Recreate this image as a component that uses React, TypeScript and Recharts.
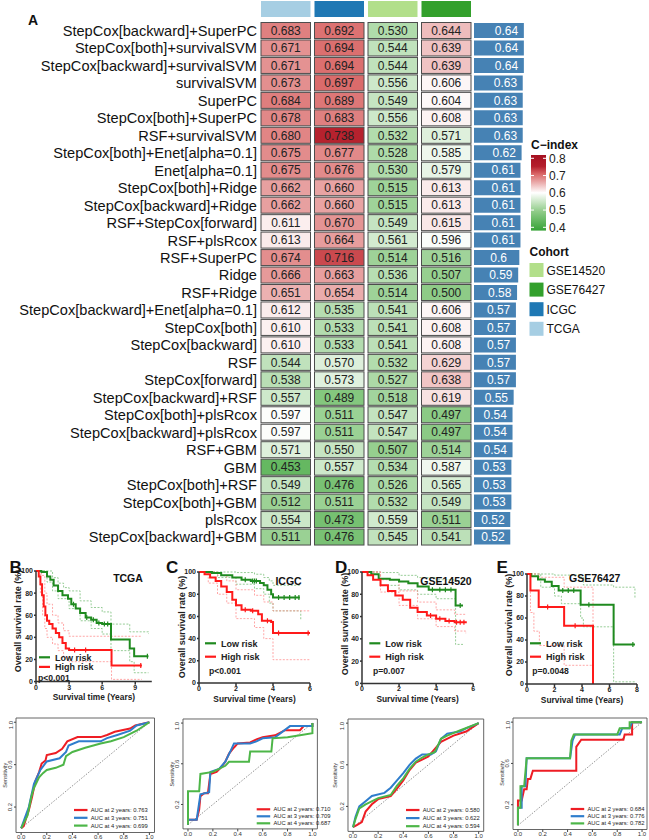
import React from 'react'
import {
  BarChart, Bar, XAxis, YAxis, LabelList, LineChart, Line, ReferenceArea, ReferenceLine, Label,
} from 'recharts'

// ---------- panel A: C-index heatmap ----------
const methods = [
  'StepCox[backward]+SuperPC', 'StepCox[both]+survivalSVM', 'StepCox[backward]+survivalSVM', 'survivalSVM',
  'SuperPC', 'StepCox[both]+SuperPC', 'RSF+survivalSVM', 'StepCox[both]+Enet[alpha=0.1]', 'Enet[alpha=0.1]',
  'StepCox[both]+Ridge', 'StepCox[backward]+Ridge', 'RSF+StepCox[forward]', 'RSF+plsRcox', 'RSF+SuperPC',
  'Ridge', 'RSF+Ridge', 'StepCox[backward]+Enet[alpha=0.1]', 'StepCox[both]', 'StepCox[backward]', 'RSF',
  'StepCox[forward]', 'StepCox[backward]+RSF', 'StepCox[both]+plsRcox', 'StepCox[backward]+plsRcox',
  'RSF+GBM', 'GBM', 'StepCox[both]+RSF', 'StepCox[both]+GBM', 'plsRcox', 'StepCox[backward]+GBM',
]
const cohorts = ['TCGA', 'ICGC', 'GSE14520', 'GSE76427']
const cohortColors: Record<string, string> = {
  TCGA: '#a6cee3', ICGC: '#1f78b4', GSE14520: '#b2df8a', GSE76427: '#33a02c',
}
const legendCohorts = ['GSE14520', 'GSE76427', 'ICGC', 'TCGA']
const tcgaC = [0.683, 0.671, 0.671, 0.673, 0.684, 0.678, 0.680, 0.675, 0.675, 0.662, 0.662, 0.611, 0.613, 0.674, 0.666,
  0.651, 0.612, 0.610, 0.610, 0.544, 0.538, 0.557, 0.597, 0.597, 0.571, 0.453, 0.549, 0.512, 0.554, 0.511]
const icgcC = [0.692, 0.694, 0.694, 0.697, 0.689, 0.683, 0.738, 0.677, 0.676, 0.660, 0.660, 0.670, 0.664, 0.716, 0.663,
  0.654, 0.535, 0.533, 0.533, 0.570, 0.573, 0.489, 0.511, 0.511, 0.550, 0.557, 0.476, 0.511, 0.473, 0.476]
const gse14520C = [0.530, 0.544, 0.544, 0.556, 0.549, 0.556, 0.532, 0.528, 0.530, 0.515, 0.515, 0.549, 0.561, 0.514, 0.536,
  0.514, 0.541, 0.541, 0.541, 0.532, 0.527, 0.518, 0.547, 0.547, 0.507, 0.534, 0.526, 0.532, 0.559, 0.545]
const gse76427C = [0.644, 0.639, 0.639, 0.606, 0.604, 0.608, 0.571, 0.585, 0.579, 0.613, 0.613, 0.615, 0.596, 0.516, 0.507,
  0.500, 0.606, 0.608, 0.608, 0.629, 0.638, 0.619, 0.497, 0.497, 0.514, 0.587, 0.565, 0.549, 0.511, 0.541]
const meanC = [0.64, 0.64, 0.64, 0.63, 0.63, 0.63, 0.63, 0.62, 0.61, 0.61, 0.61, 0.61, 0.61, 0.6, 0.59, 0.58, 0.57, 0.57,
  0.57, 0.57, 0.57, 0.55, 0.54, 0.54, 0.54, 0.53, 0.53, 0.53, 0.52, 0.52]
const cLegendTicks = [0.8, 0.7, 0.6, 0.5, 0.4]

// ---------- panels B-E: Kaplan-Meier ([years, survival %]) ----------
const tcgaLow = [[0, 100], [0.5, 99], [1, 95], [1.3, 92], [1.6, 87], [2, 82], [2.4, 78], [2.9, 75], [3.2, 70], [3.6, 66], [4, 62],
  [4.5, 58], [5, 56], [5.5, 53], [6, 52], [6.8, 38], [8.5, 30], [8.9, 23], [10.2, 23]]
const tcgaHigh = [[0, 100], [0.25, 95], [0.4, 88], [0.55, 78], [0.7, 68], [0.85, 60], [1, 55], [1.2, 52], [1.5, 48], [1.8, 44],
  [2.1, 40], [2.4, 35], [2.7, 30], [3, 28.5], [6.85, 14.5], [9.6, 14.5]]
const tcgaLowUp = [[0, 100], [1, 100], [1.5, 94], [2, 89], [2.5, 85], [3, 82], [4, 73], [5, 67], [6, 63], [6.8, 52], [8.5, 45], [10.2, 43]]
const tcgaLowLo = [[0, 100], [1, 90], [1.5, 82], [2, 75], [3, 66], [4, 55], [5, 48], [6, 43], [6.8, 28], [8.5, 18], [8.9, 8], [10.2, 8]]
const tcgaHighUp = [[0, 100], [0.5, 96], [0.8, 80], [1, 70], [1.5, 60], [2, 53], [2.5, 46], [3, 41], [9.6, 41]]
const tcgaHighLo = [[0, 100], [0.4, 80], [0.6, 60], [0.8, 48], [1, 40], [1.5, 34], [2, 28], [2.5, 22], [3, 18], [6.85, 2], [9.6, 2]]
const tcgaLowCens = [[3.4, 70], [4.6, 58], [5.2, 56], [5.7, 53], [6.2, 52], [6.5, 52], [10.1, 23]]
const tcgaHighCens = [[3.5, 28.5], [4.5, 28.5], [9.5, 14.5]]

const icgcLow = [[0, 100], [0.7, 99], [1.2, 97], [1.8, 95], [2.3, 93], [2.8, 92], [3.3, 90], [3.5, 88], [3.7, 84], [3.9, 80], [4, 77], [5.45, 77]]
const icgcHigh = [[0, 100], [0.3, 98], [0.6, 95], [0.9, 92], [1.2, 87], [1.5, 82], [1.8, 75], [2, 70], [2.3, 66], [2.8, 65], [3.2, 62],
  [3.4, 56], [3.9, 55], [4, 45], [6, 45]]
const icgcLowUp = [[0, 100], [2, 99.5], [3, 98], [3.5, 95], [3.8, 92], [4, 88], [5.5, 88]]
const icgcLowLo = [[0, 100], [1, 95], [2, 89], [3, 85], [3.5, 80], [3.8, 72], [4, 65], [5.5, 57]]
const icgcHighUp = [[0, 100], [1, 97], [1.5, 92], [2, 84], [3, 79], [3.5, 73], [4, 65], [6, 65]]
const icgcHighLo = [[0, 100], [0.5, 90], [1, 80], [1.5, 72], [2, 58], [3, 50], [3.5, 40], [4, 21], [6, 21]]
const icgcLowCens = [[2.5, 93], [2.9, 92], [3.0, 92], [3.1, 92], [4.3, 77], [4.6, 77], [4.9, 77], [5.2, 77], [5.4, 77]]
const icgcHighCens = [[2.5, 66], [2.9, 65], [3.7, 56], [4.3, 45], [5.9, 45]]

const gse14Low = [[0, 100], [0.5, 98], [0.9, 94], [1.5, 93], [2, 91.5], [2.5, 90], [3, 87], [3.6, 84], [5.05, 70], [5.45, 70]]
const gse14High = [[0, 100], [0.3, 97], [0.6, 93], [1, 88], [1.4, 83], [1.8, 79], [2.2, 75], [2.6, 68], [3, 64], [3.5, 61], [4, 58],
  [4.5, 56], [5, 55], [5.6, 54]]
const gse14LowUp = [[0, 100], [1, 99.5], [2, 97], [3, 95], [4, 93], [5, 92], [5.45, 90]]
const gse14LowLo = [[0, 100], [1, 88], [2, 84], [3, 80], [4, 76], [5.05, 35], [5.45, 35]]
const gse14HighUp = [[0, 100], [1, 93], [2, 83], [3, 73], [4, 66], [5, 62], [5.6, 62]]
const gse14HighLo = [[0, 100], [1, 82], [2, 70], [3, 58], [4, 51], [5, 47], [5.6, 45]]
const gse14LowCens = [[3.8, 84], [4.2, 84], [4.5, 84], [4.8, 84], [5.3, 70]]
const gse14HighCens = [[3.7, 61], [4.2, 58], [4.7, 56], [5.1, 55], [5.3, 55], [5.5, 55]]

const gse76Low = [[0, 100], [0.3, 98], [0.8, 95], [1.3, 93], [1.8, 89], [2.3, 85], [3.9, 72], [6.3, 36], [7.85, 36]]
const gse76High = [[0, 100], [0.25, 85], [0.85, 70], [2.7, 53], [4.8, 0]]
const gse76LowUp = [[0, 100], [2, 99], [3.9, 97], [4.1, 90], [6.3, 88], [7.85, 78]]
const gse76LowLo = [[0, 100], [1, 88], [2, 80], [2.5, 73], [3.9, 60], [4.1, 52], [6.3, 2], [7.85, 2]]
const gse76HighUp = [[0, 100], [0.9, 97], [2.7, 88], [4.8, 88], [4.8, 0]]
const gse76HighLo = [[0, 100], [0.25, 65], [0.5, 48], [0.9, 35], [2.7, 17], [4.8, 17], [4.8, 0]]
const gse76LowCens = [[2.6, 85], [3.0, 85], [3.4, 85], [4.5, 72], [7.7, 36]]
const gse76HighCens = [[1.5, 70], [3.5, 53]]

// ---------- ROC curves ([1 - specificity, sensitivity]) ----------
const tcgaRoc2 = [[0, 0], [0.02, 0.02], [0.04, 0.1], [0.06, 0.17], [0.086, 0.3], [0.11, 0.44], [0.14, 0.53], [0.16, 0.61], [0.19, 0.64],
  [0.2, 0.69], [0.27, 0.71], [0.32, 0.75], [0.36, 0.82], [0.44, 0.86], [0.62, 0.86], [0.67, 0.88], [0.73, 0.91], [0.85, 0.94],
  [0.89, 0.97], [1, 1]]
const tcgaRoc3 = [[0, 0], [0.03, 0.1], [0.06, 0.2], [0.1, 0.42], [0.15, 0.55], [0.2, 0.63], [0.3, 0.66], [0.35, 0.72], [0.37, 0.78],
  [0.45, 0.82], [0.62, 0.82], [0.67, 0.85], [0.75, 0.88], [0.85, 0.92], [0.9, 0.97], [1, 1]]
const tcgaRoc4 = [[0, 0], [0.05, 0.12], [0.08, 0.3], [0.1, 0.38], [0.14, 0.48], [0.17, 0.52], [0.2, 0.55], [0.27, 0.57], [0.33, 0.6],
  [0.35, 0.68], [0.4, 0.72], [0.5, 0.76], [0.62, 0.8], [0.7, 0.82], [0.8, 0.86], [0.9, 0.92], [1, 1]]
const icgcRoc2 = [[0, 0], [0, 0.05], [0.07, 0.05], [0.09, 0.15], [0.1, 0.28], [0.13, 0.31], [0.16, 0.31], [0.18, 0.5], [0.23, 0.52],
  [0.27, 0.57], [0.3, 0.62], [0.33, 0.7], [0.37, 0.76], [0.4, 0.8], [0.5, 0.81], [0.55, 0.84], [0.6, 0.86], [0.7, 0.88], [0.78, 0.93],
  [0.9, 0.93], [0.93, 0.97], [1, 0.97], [1, 1]]
const icgcRoc3 = [[0, 0], [0, 0.05], [0.07, 0.05], [0.1, 0.3], [0.17, 0.32], [0.18, 0.52], [0.25, 0.55], [0.3, 0.62], [0.34, 0.72],
  [0.37, 0.8], [0.5, 0.8], [0.55, 0.82], [0.6, 0.85], [0.7, 0.86], [0.82, 0.97], [1, 0.97], [1, 1]]
const icgcRoc4 = [[0, 0], [0, 0.33], [0.09, 0.33], [0.1, 0.5], [0.2, 0.52], [0.3, 0.58], [0.33, 0.62], [0.49, 0.62], [0.5, 0.72],
  [0.67, 0.72], [0.68, 0.85], [0.8, 0.86], [0.9, 0.88], [1, 0.9], [1, 1]]
const gse14Roc2 = [[0, 0], [0.03, 0.02], [0.07, 0.05], [0.1, 0.15], [0.15, 0.22], [0.2, 0.27], [0.3, 0.3], [0.35, 0.37], [0.4, 0.45],
  [0.45, 0.55], [0.5, 0.62], [0.55, 0.65], [0.6, 0.68], [0.65, 0.75], [0.7, 0.82], [0.8, 0.88], [0.9, 0.92], [1, 1]]
const gse14Roc3 = [[0, 0], [0.02, 0.1], [0.05, 0.2], [0.1, 0.25], [0.15, 0.3], [0.25, 0.33], [0.3, 0.38], [0.35, 0.45], [0.4, 0.52],
  [0.45, 0.6], [0.5, 0.66], [0.55, 0.7], [0.62, 0.7], [0.66, 0.73], [0.7, 0.85], [0.75, 0.9], [0.85, 0.92], [0.9, 0.95], [1, 1]]
const gse14Roc4 = [[0, 0], [0.02, 0.08], [0.05, 0.18], [0.1, 0.22], [0.2, 0.28], [0.3, 0.31], [0.35, 0.4], [0.4, 0.47], [0.45, 0.56],
  [0.5, 0.63], [0.55, 0.67], [0.6, 0.7], [0.65, 0.72], [0.7, 0.85], [0.75, 0.88], [0.85, 0.93], [1, 1]]
const gse76Roc2 = [[0, 0], [0, 0.24], [0.03, 0.24], [0.05, 0.35], [0.07, 0.35], [0.08, 0.45], [0.1, 0.45], [0.12, 0.53], [0.47, 0.53],
  [0.47, 0.76], [0.51, 0.83], [0.85, 0.83], [0.86, 0.88], [0.92, 0.88], [0.92, 1], [1, 1]]
const gse76Roc3 = [[0, 0], [0, 0.17], [0.03, 0.17], [0.03, 0.38], [0.06, 0.38], [0.07, 0.65], [0.42, 0.65], [0.44, 0.82], [0.46, 0.88],
  [0.82, 0.88], [0.84, 0.94], [0.9, 0.94], [0.92, 1], [1, 1]]
const gse76Roc4 = [[0, 0], [0, 0.17], [0.02, 0.17], [0.02, 0.38], [0.05, 0.38], [0.07, 0.65], [0.42, 0.65], [0.43, 0.82], [0.45, 0.88],
  [0.8, 0.88], [0.82, 0.94], [0.9, 0.94], [0.9, 1], [1, 1]]
const tcgaAuc = [0.763, 0.751, 0.699]
const icgcAuc = [0.710, 0.709, 0.687]
const gse14Auc = [0.580, 0.622, 0.594]
const gse76Auc = [0.684, 0.776, 0.782]

const FONT = '"Liberation Sans", Arial, sans-serif'
const KM_GREEN = '#1f8a1f'
const KM_RED = '#ff1a1a'
const ROC_COLORS = ['#ee1d24', '#2f7dcc', '#4db648']

const STOPS: [number, number[]][] = [
  [0.4, [54, 163, 54]], [0.5, [142, 203, 135]], [0.6, [255, 255, 255]],
  [0.7, [217, 102, 102]], [0.74, [180, 30, 43]], [0.8, [165, 15, 32]],
]
function cColor(v: number) {
  const rgb = (c: number[]) => `rgb(${c.map(Math.round).join(',')})`
  if (v <= STOPS[0][0]) return rgb(STOPS[0][1])
  for (let i = 1; i < STOPS.length; i++) {
    const [a, ca] = STOPS[i - 1]
    const [b, cb] = STOPS[i]
    if (v <= b) {
      const t = (v - a) / (b - a)
      return rgb(ca.map((c, k) => c + (cb[k] - c) * t))
    }
  }
  return rgb(STOPS[STOPS.length - 1][1])
}

const pts = (arr: number[][]) => arr.map(([t, s]) => ({ t, s }))

const heatRows = methods.map((m, i) => ({
  method: m, TCGA: tcgaC[i], ICGC: icgcC[i], GSE14520: gse14520C[i], GSE76427: gse76427C[i], mean: meanC[i],
}))
const cohortRow = [{ name: 'Cohort', TCGA: 1, ICGC: 1, GSE14520: 1, GSE76427: 1 }]

function HeatRect(p: any) {
  const { x, y, width, height, v } = p
  return (
    <g>
      <rect x={x + 2} y={y + 0.5} width={width - 4} height={height - 1} fill={cColor(v)} stroke="#4d4d4d" strokeWidth={1} />
      <text x={x + width / 2} y={y + height / 2 + 4.2} textAnchor="middle" fontSize={12} fill="#222">{v.toFixed(3)}</text>
    </g>
  )
}

function Heatmap() {
  return (
    <>
      <div style={{ position: 'absolute', left: 0, top: 0 }}>
        <BarChart width={473} height={19} layout="vertical" data={cohortRow} barCategoryGap={0}
          margin={{ top: 1, right: 0, bottom: 2, left: 259 }}>
          <XAxis type="number" domain={[0, 4]} hide />
          <YAxis type="category" dataKey="name" hide />
          {cohorts.map(c => (
            <Bar key={c} dataKey={() => 1} stackId="a" isAnimationActive={false}
              shape={(p: any) => <rect x={p.x + 2} y={p.y} width={p.width - 4} height={p.height} fill={cohortColors[c]} />} />
          ))}
        </BarChart>
      </div>
      <div style={{ position: 'absolute', left: 0, top: 0 }}>
        <BarChart width={473} height={548} layout="vertical" data={heatRows} barCategoryGap={0}
          margin={{ top: 22, right: 0, bottom: 2, left: 0 }}>
          <XAxis type="number" domain={[0, 4]} hide />
          <YAxis type="category" dataKey="method" width={259} interval={0} tickSize={0} tickMargin={2}
            axisLine={false} tickLine={false} tick={{ fontSize: 14.6, fill: '#111' }} />
          {cohorts.map(c => (
            <Bar key={c} dataKey={() => 1} stackId="h" isAnimationActive={false}
              shape={(p: any) => <HeatRect {...p} v={p.payload[c]} />} />
          ))}
        </BarChart>
      </div>
      <div style={{ position: 'absolute', left: 474, top: 0 }}>
        <BarChart width={51} height={548} layout="vertical" data={heatRows} barSize={15}
          margin={{ top: 22, right: 0, bottom: 2, left: 0 }}>
          <XAxis type="number" domain={[0.2, 0.65]} allowDataOverflow hide />
          <YAxis type="category" dataKey="method" hide />
          <Bar dataKey="mean" fill="#4682b4" isAnimationActive={false}>
            <LabelList dataKey="mean" content={(p: any) => (
              <text x={p.x + p.width - 29} y={p.y + p.height / 2 + 4.2} fill="#fff" fontSize={12}>{String(p.value)}</text>
            )} />
          </Bar>
        </BarChart>
      </div>
    </>
  )
}

type KMProps = {
  x: number; y: number; w: number; h: number; xMax: number; xTicks: number[]
  low: number[][]; high: number[][]; lowUp: number[][]; lowLo: number[][]; highUp: number[][]; highLo: number[][]
  lowCens: number[][]; highCens: number[][]
}

const censorDot = (color: string) => (p: any) => (
  <line key={p.index} x1={p.cx} x2={p.cx} y1={p.cy - 2.5} y2={p.cy + 2.5} stroke={color} strokeWidth={1.2} />
)

function KMPlot({ x, y, w, h, xMax, xTicks, low, high, lowUp, lowLo, highUp, highLo, lowCens, highCens }: KMProps) {
  const padL = 40, padT = 10, padR = 10, padB = 22
  const band = (d: number[][], color: string, k: string) => (
    <Line key={k} data={pts(d)} dataKey="s" type="stepAfter" stroke={color} strokeWidth={0.8}
      strokeDasharray="2 1.5" dot={false} isAnimationActive={false} />
  )
  const tick = { fontSize: 7, fontWeight: 700, fill: '#222' }
  return (
    <div style={{ position: 'absolute', left: x - padL, top: y - padT }}>
      <LineChart width={w + padL + padR} height={h + padT + padB} margin={{ top: padT, right: padR, left: 0, bottom: 0 }}>
        <XAxis type="number" dataKey="t" domain={[0, xMax]} ticks={xTicks} allowDataOverflow height={padB}
          tick={tick} tickSize={3} tickMargin={0} stroke="#333" strokeWidth={1.5}>
          <Label content={(p: any) => (
            <text x={p.viewBox.x + p.viewBox.width / 2} y={p.viewBox.y + 18.5} textAnchor="middle"
              fontSize={8.4} fontWeight={700} fill="#222">Survival time (Years)</text>
          )} />
        </XAxis>
        <YAxis type="number" domain={[0, 100]} ticks={[0, 20, 40, 60, 80, 100]} width={padL}
          tick={tick} tickSize={2} tickMargin={1} stroke="#333" strokeWidth={1.5} />
        {band(lowUp, '#7cc07c', 'lu')}
        {band(lowLo, '#7cc07c', 'll')}
        {band(highUp, '#ff9090', 'hu')}
        {band(highLo, '#ff9090', 'hl')}
        <Line data={pts(low)} dataKey="s" type="stepAfter" stroke={KM_GREEN} strokeWidth={2} dot={false} isAnimationActive={false} />
        <Line data={pts(high)} dataKey="s" type="stepAfter" stroke={KM_RED} strokeWidth={2} dot={false} isAnimationActive={false} />
        <Line data={pts(lowCens)} dataKey="s" stroke="none" dot={censorDot(KM_GREEN)} isAnimationActive={false} />
        <Line data={pts(highCens)} dataKey="s" stroke="none" dot={censorDot(KM_RED)} isAnimationActive={false} />
      </LineChart>
    </div>
  )
}

type RocProps = { x: number; y: number; w: number; h: number; curves: number[][][] }

function RocTick(p: any) {
  const { x, y, payload } = p
  return (
    <text x={x} y={y} transform={`rotate(-90 ${x} ${y})`} textAnchor="middle" fontSize={6} fill="#333">
      {Number(payload.value).toFixed(1)}
    </text>
  )
}

function RocPlot({ x, y, w, h, curves }: RocProps) {
  const padL = 16, padT = 2, padR = 2, padB = 12
  const ticks = [0, 0.2, 0.4, 0.6, 0.8, 1]
  return (
    <div style={{ position: 'absolute', left: x - padL, top: y - padT }}>
      <LineChart width={w + padL + padR} height={h + padT + padB} margin={{ top: padT, right: padR, left: 0, bottom: 0 }}>
        <XAxis type="number" dataKey="t" domain={[-0.04, 1.04]} ticks={ticks} allowDataOverflow height={padB}
          axisLine={false} tickSize={2.5} tickMargin={0} stroke="#444"
          tick={{ fontSize: 6, fill: '#333' }} tickFormatter={(v: number) => v.toFixed(1)} />
        <YAxis type="number" domain={[-0.04, 1.04]} ticks={ticks} allowDataOverflow width={padL}
          axisLine={false} tickSize={2} tickMargin={1.5} stroke="#444" tick={<RocTick />} />
        <ReferenceArea x1={-0.04} x2={1.04} y1={-0.04} y2={1.04} fill="none" stroke="#555" strokeWidth={0.9} ifOverflow="visible" />
        <ReferenceLine segment={[{ x: 0, y: 0 }, { x: 1, y: 1 }]} stroke="#777" strokeWidth={0.8} strokeDasharray="1.5 1.5" />
        {curves.map((c, i) => (
          <Line key={i} data={pts(c)} dataKey="s" type="linear" stroke={ROC_COLORS[i]} strokeWidth={2}
            dot={false} isAnimationActive={false} />
        ))}
      </LineChart>
    </div>
  )
}

const kmPanels = [
  { letter: 'B', lx: 9.5, title: 'TCGA', tx: 128, ty: 582, p: 'p<0.001', px: 38, py: 680.5, legX: 39, legY: 657.3, legDy: 9.6, ylx: 21.2, yly: 621, plot: { x: 35.7, y: 570.7, w: 115.8, h: 110.6, xMax: 10.5, xTicks: [0, 3, 6, 9], low: tcgaLow, high: tcgaHigh, lowUp: tcgaLowUp, lowLo: tcgaLowLo, highUp: tcgaHighUp, highLo: tcgaHighLo, lowCens: tcgaLowCens, highCens: tcgaHighCens } },
  { letter: 'C', lx: 166, title: 'ICGC', tx: 288.5, ty: 584.5, p: 'p<0.001', px: 209, py: 673.5, legX: 205, legY: 643.3, legDy: 13.4, ylx: 185.2, yly: 627, plot: { x: 199, y: 572.3, w: 111, h: 111, xMax: 6, xTicks: [0, 2, 4, 6], low: icgcLow, high: icgcHigh, lowUp: icgcLowUp, lowLo: icgcLowLo, highUp: icgcHighUp, highLo: icgcHighLo, lowCens: icgcLowCens, highCens: icgcHighCens } },
  { letter: 'D', lx: 335, title: 'GSE14520', tx: 446, ty: 584.5, p: 'p=0.007', px: 373, py: 673.5, legX: 369.3, legY: 643.3, legDy: 13.4, ylx: 348.2, yly: 624, plot: { x: 362, y: 572.3, w: 111.2, h: 111.4, xMax: 6, xTicks: [0, 2, 4, 6], low: gse14Low, high: gse14High, lowUp: gse14LowUp, lowLo: gse14LowLo, highUp: gse14HighUp, highLo: gse14HighLo, lowCens: gse14LowCens, highCens: gse14HighCens } },
  { letter: 'E', lx: 496.5, title: 'GSE76427', tx: 594.7, ty: 582, p: 'p=0.0048', px: 532.3, py: 673.5, legX: 530, legY: 643.3, legDy: 13.4, ylx: 511.5, yly: 625, plot: { x: 527, y: 574, w: 110, h: 110, xMax: 8, xTicks: [0, 2, 4, 6, 8], low: gse76Low, high: gse76High, lowUp: gse76LowUp, lowLo: gse76LowLo, highUp: gse76HighUp, highLo: gse76HighLo, lowCens: gse76LowCens, highCens: gse76HighCens } },
]

const rocPanels = [
  { box: { x: 15.6, y: 718, w: 138.5, h: 114.5 }, curves: [tcgaRoc2, tcgaRoc3, tcgaRoc4], auc: tcgaAuc, legX: 74, legY: 810, legDy: 7.8, sx: 7 },
  { box: { x: 183.3, y: 719.2, w: 134.4, h: 109.9 }, curves: [icgcRoc2, icgcRoc3, icgcRoc4], auc: icgcAuc, legX: 256.7, legY: 809.3, legDy: 7, sx: 173.7 },
  { box: { x: 348.3, y: 719.1, w: 135.7, h: 112.4 }, curves: [gse14Roc2, gse14Roc3, gse14Roc4], auc: gse14Auc, legX: 406, legY: 810, legDy: 8.1, sx: 337 },
  { box: { x: 513.3, y: 717.6, w: 134, h: 111.5 }, curves: [gse76Roc2, gse76Roc3, gse76Roc4], auc: gse76Auc, legX: 570.7, legY: 809, legDy: 7.2, sx: 503.7 },
]

function Overlay() {
  const gradStops = [0.4, 0.45, 0.5, 0.55, 0.6, 0.65, 0.7, 0.72, 0.74, 0.77, 0.8]
  const legTop = 158.3, legStep = 17.25
  return (
    <svg width={649} height={840} style={{ position: 'absolute', left: 0, top: 0, pointerEvents: 'none' }}
      fontFamily={FONT}>
      <defs>
        <linearGradient id="cidx" x1="0" y1="1" x2="0" y2="0">
          {gradStops.map(s => <stop key={s} offset={(s - 0.4) / 0.4} stopColor={cColor(s)} />)}
        </linearGradient>
      </defs>
      <text x={28} y={25} fontSize={14} fontWeight={700} fill="#111">A</text>
      {/* C-index legend */}
      <text x={531} y={149} fontSize={12} fontWeight={700} fill="#111">C−index</text>
      <rect x={531} y={legTop - 3.3} width={15} height={legStep * 4 + 6.6} fill="url(#cidx)" />
      {cLegendTicks.map((t, i) => (
        <g key={t}>
          <line x1={531} x2={534} y1={legTop + i * legStep} y2={legTop + i * legStep} stroke="#fff" strokeWidth={1} />
          <line x1={543} x2={546} y1={legTop + i * legStep} y2={legTop + i * legStep} stroke="#fff" strokeWidth={1} />
          <text x={549} y={legTop + i * legStep + 4.2} fontSize={12} fill="#222">{t.toFixed(1)}</text>
        </g>
      ))}
      <text x={529.5} y={256} fontSize={12} fontWeight={700} fill="#111">Cohort</text>
      {legendCohorts.map((c, i) => (
        <g key={c}>
          <rect x={529.5} y={263 + i * 19.6} width={14} height={14} fill={cohortColors[c]} />
          <text x={546.5} y={274.5 + i * 19.6} fontSize={12} fill="#111">{c}</text>
        </g>
      ))}
      {/* KM annotations */}
      {kmPanels.map(k => (
        <g key={k.letter}>
          <text x={k.lx} y={572.7} fontSize={17} fontWeight={700} fill="#111">{k.letter}</text>
          <text x={k.tx} y={k.ty} textAnchor="middle" fontSize={10.5} fontWeight={700} fill="#111">{k.title}</text>
          <text x={k.ylx} y={k.yly} transform={`rotate(-90 ${k.ylx} ${k.yly})`} textAnchor="middle"
            fontSize={9} fontWeight={700} fill="#222">Overall survival rate (%)</text>
          <line x1={k.legX} x2={k.legX + 11} y1={k.legY} y2={k.legY} stroke={KM_GREEN} strokeWidth={2.2} />
          <text x={k.legX + 16} y={k.legY + 3.2} fontSize={9} fontWeight={700} fill="#222">Low risk</text>
          <line x1={k.legX} x2={k.legX + 11} y1={k.legY + k.legDy} y2={k.legY + k.legDy} stroke={KM_RED} strokeWidth={2.2} />
          <text x={k.legX + 16} y={k.legY + k.legDy + 3.2} fontSize={9} fontWeight={700} fill="#222">High risk</text>
          <text x={k.px} y={k.py} fontSize={8.6} fontWeight={700} fill="#222">{k.p}</text>
        </g>
      ))}
      {/* ROC legends */}
      {rocPanels.map((r, j) => {
        const sy = r.box.y + r.box.h / 2
        return (
          <g key={j}>
            <text x={r.sx} y={sy} transform={`rotate(-90 ${r.sx} ${sy})`} textAnchor="middle" fontSize={5.5} fill="#333">Sensitivity</text>
            {r.auc.map((a, i) => (
              <g key={i}>
                <line x1={r.legX} x2={r.legX + 13.5} y1={r.legY + i * r.legDy} y2={r.legY + i * r.legDy}
                  stroke={ROC_COLORS[i]} strokeWidth={2.2} />
                <text x={r.legX + 16.7} y={r.legY + i * r.legDy + 2} fontSize={5.8} fill="#222">
                  {`AUC at ${i + 2} years: ${a.toFixed(3)}`}
                </text>
              </g>
            ))}
          </g>
        )
      })}
    </svg>
  )
}

export default function App() {
  return (
    <div style={{ position: 'absolute', left: 0, top: 0, width: 649, height: 840, overflow: 'hidden', background: '#fff', fontFamily: FONT }}>
      <Heatmap />
      {kmPanels.map(k => <KMPlot key={k.letter} {...k.plot} />)}
      {rocPanels.map((r, i) => <RocPlot key={i} {...r.box} curves={r.curves} />)}
      <Overlay />
    </div>
  )
}
